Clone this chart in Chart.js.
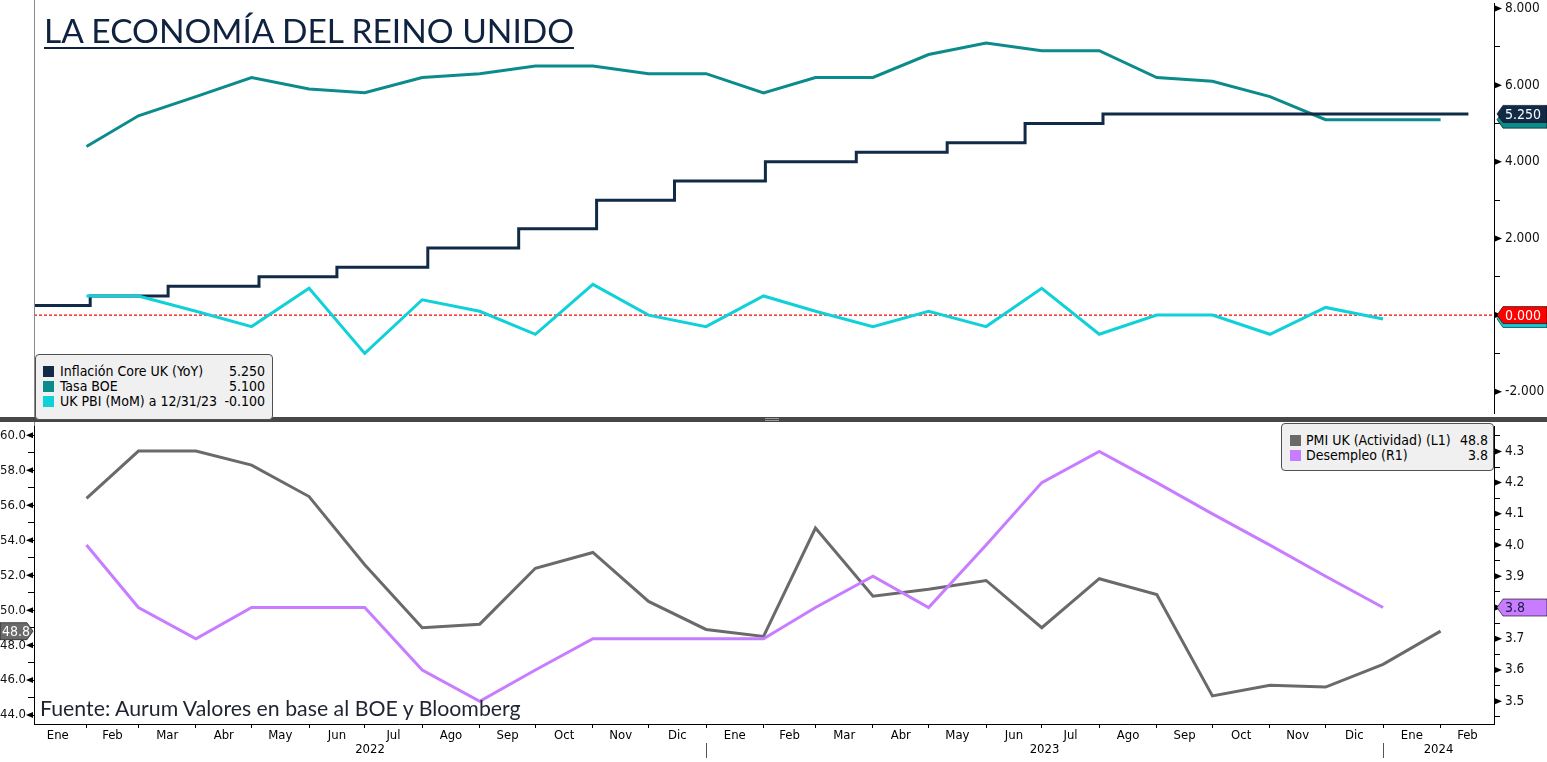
<!DOCTYPE html>
<html><head><meta charset="utf-8">
<script src="https://cdn.jsdelivr.net/npm/chart.js@4.4.0/dist/chart.umd.min.js"></script>
<style>
html,body{margin:0;padding:0;background:#fff;}
#wrap{position:relative;width:1547px;height:762px;overflow:hidden;background:#fff;}
canvas{position:absolute;left:0;}
#c1{top:-10px;}
#c2{top:413px;}
#title{position:absolute;left:44px;top:13px;font-family:Lato,'Open Sans',sans-serif;font-size:33.5px;line-height:34px;color:#0f2240;border-bottom:2px solid #0f2240;padding-bottom:0;white-space:nowrap;}
#source{position:absolute;left:40px;top:696px;font-family:Lato,'Open Sans',sans-serif;font-size:21.3px;line-height:24px;color:#1e2430;white-space:nowrap;}
.lg{position:absolute;background:#f0f0f0;border:1px solid #505050;border-radius:4px;font-family:'DejaVu Sans Condensed','Liberation Sans Narrow','DejaVu Sans',sans-serif;font-size:14px;color:#000;}
.row{position:absolute;left:0;right:0;height:15px;line-height:15px;white-space:nowrap;}
.sw{position:absolute;top:2px;width:11px;height:11px;}
.tx{position:absolute;}
.val{position:absolute;text-align:right;}
#sep{position:absolute;left:0;top:417px;width:1547px;height:5px;background:#474747;}
#handle{position:absolute;left:765px;top:418px;width:14px;height:1px;border-top:1px solid #9a9a9a;border-bottom:1px solid #9a9a9a;}
</style>
</head>
<body>
<div id="wrap">
  <canvas id="c1" width="1547" height="437"></canvas>
  <canvas id="c2" width="1547" height="349"></canvas>
  <div id="sep"></div><div id="handle"></div>
  <div id="title">LA ECONOMÍA DEL REINO UNIDO</div>
  <div id="source">Fuente: Aurum Valores en base al BOE y Bloomberg</div>
  <div class="lg" id="lg1" style="left:35px;top:354px;width:236px;height:64px;"></div>
  <div class="lg" id="lg2" style="left:1281px;top:423px;width:211px;height:46px;"></div>
</div>
<script>
// ---------------- DATA ----------------
// Monthly series (value plotted at the end of each month)
const monthsTop = ['2022-01','2022-02','2022-03','2022-04','2022-05','2022-06','2022-07','2022-08','2022-09','2022-10','2022-11','2022-12',
                   '2023-01','2023-02','2023-03','2023-04','2023-05','2023-06','2023-07','2023-08','2023-09','2023-10','2023-11','2023-12','2024-01'];
const tasaBOE = [4.4,5.2,5.7,6.2,5.9,5.8,6.2,6.3,6.5,6.5,6.3,6.3,5.8,6.2,6.2,6.8,7.1,6.9,6.9,6.2,6.1,5.7,5.1,5.1,5.1];

const monthsPBI = monthsTop.slice(0,24);
const pbiMoM = [0.5,0.5,0.1,-0.3,0.7,-1.0,0.4,0.1,-0.5,0.8,0.0,-0.3,0.5,0.1,-0.3,0.1,-0.3,0.7,-0.5,0.0,0.0,-0.5,0.2,-0.1];

// Step series: date of each change and the new level
const inflDates = ['2021-12-16','2022-02-03','2022-03-17','2022-05-05','2022-06-16','2022-08-04','2022-09-22','2022-11-03','2022-12-15',
                   '2023-02-02','2023-03-23','2023-05-11','2023-06-22','2023-08-03','2024-02-16'];
const inflCore = [0.25,0.5,0.75,1.0,1.25,1.75,2.25,3.0,3.5,4.0,4.25,4.5,5.0,5.25,5.25];

const monthsPMI = monthsTop.slice();
const pmiUK = [56.4,59.1,59.1,58.3,56.5,52.6,49.0,49.2,52.4,53.3,50.5,48.9,48.5,54.7,50.8,51.2,51.7,49.0,51.8,50.9,45.1,45.7,45.6,46.9,48.8];

const monthsDes = monthsTop.slice(0,24);
const desempleo = [4.0,3.8,3.7,3.8,3.8,3.8,3.6,3.5,3.6,3.7,3.7,3.7,3.7,3.8,3.9,3.8,4.0,4.2,4.3,4.2,4.1,4.0,3.9,3.8];

const axisMonthNames = ['Ene','Feb','Mar','Abr','May','Jun','Jul','Ago','Sep','Oct','Nov','Dic'];
const axisYears = [2022, 2023, 2024];
const topTicks = [-2,-1,0,1,2,3,4,5,6,7,8];
const leftTicks = [44,45,46,47,48,49,50,51,52,53,54,55,56,57,58,59,60];
const rightTicks = [3.45,3.5,3.55,3.6,3.65,3.7,3.75,3.8,3.85,3.9,3.95,4.0,4.05,4.1,4.15,4.2,4.25,4.3,4.35];

// ---------------- HELPERS ----------------
const DAY0 = Date.UTC(2022,0,1);
const MS = 86400000;
const dayOf = s => { const p = s.split('-').map(Number); return (Date.UTC(p[0],p[1]-1,p[2]) - DAY0)/MS; };
const monthEnd = ym => { const p = ym.split('-').map(Number); return (Date.UTC(p[0],p[1],1) - DAY0)/MS; };
const X_MIN = 2.7, X_MAX = 789.8;

const C_NAVY = '#112a46', C_TEAL = '#0b8b8b', C_CYAN = '#10d0d8', C_RED = '#ff0000', C_GRAY = '#6a6a6a', C_PURP = '#c87cff';
const FONT = "'DejaVu Sans Condensed','Liberation Sans Narrow','DejaVu Sans',sans-serif";

// x-axis month ticks
const boundaries = new Set();
const midLabels = new Map();
const xTickVals = [];
for (let i = 0; i < 26; i++) {
  const y = 2022 + Math.floor(i/12), m = i % 12;
  const s = (Date.UTC(y,m,1) - DAY0)/MS, e = (Date.UTC(y,m+1,1) - DAY0)/MS;
  const mid = (s+e)/2;
  if (s >= X_MIN && s <= X_MAX) { boundaries.add(s); xTickVals.push(s); }
  midLabels.set(mid, axisMonthNames[m]); xTickVals.push(mid);
}

function flagPath(ctx, xTip, yC, w, h, dir) {
  const a = 6;
  ctx.beginPath();
  if (dir === 'left') {
    ctx.moveTo(xTip, yC); ctx.lineTo(xTip + a, yC - h/2); ctx.lineTo(xTip + w, yC - h/2);
    ctx.lineTo(xTip + w, yC + h/2); ctx.lineTo(xTip + a, yC + h/2);
  } else {
    ctx.moveTo(xTip, yC); ctx.lineTo(xTip - a, yC - h/2); ctx.lineTo(xTip - w, yC - h/2);
    ctx.lineTo(xTip - w, yC + h/2); ctx.lineTo(xTip - a, yC + h/2);
  }
  ctx.closePath();
}

const markerPlugin = {
  id: 'markers',
  afterDraw(chart) {
    const ctx = chart.ctx;
    ctx.save();
    ctx.fillStyle = '#000';
    Object.values(chart.scales).forEach(sc => {
      if (sc.axis !== 'y') return;
      sc.ticks.forEach(t => {
        if (!t.label) return;
        const y = sc.getPixelForValue(t.value);
        ctx.beginPath();
        if (sc.position === 'right') {
          const x0 = sc.left; ctx.moveTo(x0+1, y-3); ctx.lineTo(x0+1, y+3); ctx.lineTo(x0+8, y);
        } else {
          const x0 = sc.right; ctx.moveTo(x0-1, y-3); ctx.lineTo(x0-1, y+3); ctx.lineTo(x0-8, y);
        }
        ctx.closePath(); ctx.fill();
      });
    });
    ctx.restore();
  }
};

const flagsPlugin = {
  id: 'flags',
  afterDraw(chart, args, opts) {
    const ctx = chart.ctx;
    ctx.save();
    (opts.items || []).forEach(f => {
      const sc = chart.scales[f.scale];
      const y = sc.getPixelForValue(f.value);
      let xTip, w;
      if (f.side === 'right') { xTip = sc.left + 3; w = chart.width - xTip; }
      else { xTip = sc.right - 1; w = xTip; }
      flagPath(ctx, xTip, y, w, 17, f.side === 'right' ? 'left' : 'right');
      ctx.fillStyle = f.color; ctx.fill();
      ctx.strokeStyle = f.stroke || 'rgba(0,0,0,0.6)'; ctx.lineWidth = 1; ctx.stroke();
      if (f.text) {
        ctx.fillStyle = f.textColor; ctx.font = '14px ' + FONT; ctx.textBaseline = 'middle';
        ctx.textAlign = 'left';
        if (f.side === 'right') ctx.fillText(f.text, xTip + 8, y + 1);
        else ctx.fillText(f.text, 2, y + 1);
      }
    });
    ctx.restore();
  }
};

const leftLinePlugin = {
  id: 'leftLine',
  afterDraw(chart) {
    const a = chart.chartArea, ctx = chart.ctx;
    ctx.save(); ctx.strokeStyle = '#8a8a8a'; ctx.lineWidth = 1;
    ctx.beginPath(); ctx.moveTo(a.left + 0.5, 0); ctx.lineTo(a.left + 0.5, chart.height); ctx.stroke();
    ctx.restore();
  }
};

const yearPlugin = {
  id: 'years',
  afterDraw(chart) {
    const sx = chart.scales.x, ctx = chart.ctx, a = chart.chartArea;
    ctx.save();
    ctx.font = '13px ' + FONT; ctx.fillStyle = '#000'; ctx.textAlign = 'center'; ctx.textBaseline = 'middle';
    const yText = a.bottom + 26;
    axisYears.forEach(yr => {
      const s = Math.max(sx.getPixelForValue((Date.UTC(yr,0,1)-DAY0)/MS), a.left);
      const e = Math.min(sx.getPixelForValue((Date.UTC(yr+1,0,1)-DAY0)/MS), a.right);
      ctx.fillText(String(yr), (s+e)/2, yText);
      if (yr > axisYears[0]) {
        const xs = Math.round(sx.getPixelForValue((Date.UTC(yr,0,1)-DAY0)/MS)) + 0.5;
        ctx.strokeStyle = '#555'; ctx.lineWidth = 1;
        ctx.beginPath(); ctx.moveTo(xs, a.bottom + 19); ctx.lineTo(xs, a.bottom + 34); ctx.stroke();
      }
    });
    ctx.restore();
  }
};

const yTickFont = { family: FONT, size: 13.5 };

// ---------------- TOP CHART ----------------
new Chart(document.getElementById('c1'), {
  type: 'line',
  data: {
    datasets: [
      { label: 'UK PBI (MoM) a 12/31/23', data: monthsPBI.map((m,i)=>({x:monthEnd(m), y:pbiMoM[i]})),
        borderColor: C_CYAN, borderWidth: 3, pointRadius: 0, order: 0 },
      { label: 'Inflación Core UK (YoY)', data: inflDates.map((d,i)=>({x:dayOf(d), y:inflCore[i]})),
        borderColor: C_NAVY, borderWidth: 3, pointRadius: 0, stepped: 'before', order: 1 },
      { label: 'Tasa BOE', data: monthsTop.map((m,i)=>({x:monthEnd(m), y:tasaBOE[i]})),
        borderColor: C_TEAL, borderWidth: 3, pointRadius: 0, order: 2 },
      { label: 'cero', data: [{x:X_MIN,y:0},{x:X_MAX,y:0}],
        borderColor: C_RED, borderWidth: 1.3, borderDash: [3,2], pointRadius: 0, order: 3 }
    ]
  },
  options: {
    responsive: false, animation: false, events: [],
    layout: { padding: { top: 10, bottom: 10, left: 34, right: 0 } },
    plugins: {
      legend: { display: false }, tooltip: { enabled: false },
      flags: { items: [
        { scale:'y', side:'right', value: tasaBOE[tasaBOE.length-1], color: C_TEAL },
        { scale:'y', side:'right', value: inflCore[inflCore.length-1], color: C_NAVY, text: inflCore[inflCore.length-1].toFixed(3), textColor:'#fff' },
        { scale:'y', side:'right', value: pbiMoM[pbiMoM.length-1], color: C_CYAN },
        { scale:'y', side:'right', value: 0, color: C_RED, text: (0).toFixed(3), textColor:'#fff' }
      ] }
    },
    scales: {
      x: { type: 'linear', display: false, min: X_MIN, max: X_MAX },
      y: { type: 'linear', position: 'right', min: -2.578, max: 8.141,
           afterBuildTicks: sc => { sc.ticks = topTicks.map(v => ({ value: v })); },
           afterFit: sc => { sc.width = 53; },
           ticks: { autoSkip: false, font: yTickFont, color: '#111', padding: 5,
                    callback: v => (Math.round(v) % 2 === 0 ? v.toFixed(3) : '') },
           grid: { drawOnChartArea: false, tickLength: 6, tickColor: '#000' },
           border: { display: true, color: '#000', width: 1 } }
    }
  },
  plugins: [leftLinePlugin, markerPlugin, flagsPlugin]
});

// ---------------- BOTTOM CHART ----------------
new Chart(document.getElementById('c2'), {
  type: 'line',
  data: {
    datasets: [
      { label: 'Desempleo (R1)', yAxisID: 'yR', data: monthsDes.map((m,i)=>({x:monthEnd(m), y:desempleo[i]})),
        borderColor: C_PURP, borderWidth: 3, pointRadius: 0, order: 0 },
      { label: 'PMI UK (Actividad) (L1)', yAxisID: 'yL', data: monthsPMI.map((m,i)=>({x:monthEnd(m), y:pmiUK[i]})),
        borderColor: C_GRAY, borderWidth: 3, pointRadius: 0, order: 1 }
    ]
  },
  options: {
    responsive: false, animation: false, events: [],
    layout: { padding: { top: 10, bottom: 0, left: 0, right: 0 } },
    plugins: {
      legend: { display: false }, tooltip: { enabled: false },
      flags: { items: [
        { scale:'yR', side:'right', value: desempleo[desempleo.length-1], color: C_PURP, text: desempleo[desempleo.length-1].toFixed(1), textColor:'#1a1a40' },
        { scale:'yL', side:'left', value: pmiUK[pmiUK.length-1], color: C_GRAY, text: pmiUK[pmiUK.length-1].toFixed(1), textColor:'#fff' }
      ] }
    },
    scales: {
      x: { type: 'linear', position: 'bottom', min: X_MIN, max: X_MAX,
           afterBuildTicks: sc => { sc.ticks = xTickVals.filter(v => v >= X_MIN && v <= X_MAX).map(v => ({ value: v })); },
           afterFit: sc => { sc.height = 38; },
           ticks: { autoSkip: false, maxRotation: 0, minRotation: 0, padding: 0, font: { family: FONT, size: 13 }, color: '#000',
                    callback: v => midLabels.has(v) ? midLabels.get(v) : '' },
           grid: { drawOnChartArea: false, tickLength: 4,
                   tickColor: c => (c.tick && boundaries.has(c.tick.value)) ? '#000' : 'rgba(0,0,0,0)' },
           border: { display: true, color: '#000', width: 1 } },
      yL: { type: 'linear', position: 'left', min: 43.49, max: 60.53,
            afterBuildTicks: sc => { sc.ticks = leftTicks.map(v => ({ value: v })); },
            afterFit: sc => { sc.width = 34; },
            ticks: { autoSkip: false, font: { family: FONT, size: 13 }, color: '#111', padding: 2,
                     callback: v => (Math.round(v) % 2 === 0 ? v.toFixed(1) : '') },
            grid: { drawOnChartArea: false, tickLength: 6, tickColor: '#000' },
            border: { display: true, color: '#000', width: 1 } },
      yR: { type: 'linear', position: 'right', min: 3.427, max: 4.381,
            afterBuildTicks: sc => { sc.ticks = rightTicks.map(v => ({ value: v })); },
            afterFit: sc => { sc.width = 53; },
            ticks: { autoSkip: false, font: yTickFont, color: '#111', padding: 5,
                     callback: v => (Math.round(v*20) % 2 === 0 ? v.toFixed(1) : '') },
            grid: { drawOnChartArea: false, tickLength: 6, tickColor: '#000' },
            border: { display: true, color: '#000', width: 1 } }
    }
  },
  plugins: [markerPlugin, flagsPlugin, yearPlugin]
});

// ---------------- LEGENDS ----------------
function buildLegend(id, items, cfg) {
  const el = document.getElementById(id);
  items.forEach((it, i) => {
    const r = document.createElement('div'); r.className = 'row'; r.style.top = (cfg.top + i*cfg.step) + 'px';
    r.innerHTML = '<div class="sw" style="left:'+cfg.sw+'px;background:'+it.color+'"></div>' +
      '<div class="tx" style="left:'+cfg.tx+'px">'+it.label+'</div>' +
      '<div class="val" style="right:'+cfg.vr+'px">'+it.value+'</div>';
    el.appendChild(r);
  });
}
buildLegend('lg1', [
  { label: 'Inflación Core UK (YoY)', color: C_NAVY, value: inflCore[inflCore.length-1].toFixed(3) },
  { label: 'Tasa BOE', color: C_TEAL, value: tasaBOE[tasaBOE.length-1].toFixed(3) },
  { label: 'UK PBI (MoM) a 12/31/23', color: C_CYAN, value: pbiMoM[pbiMoM.length-1].toFixed(3) }
], { top: 9, step: 15, sw: 7, tx: 24, vr: 7 });
buildLegend('lg2', [
  { label: 'PMI UK (Actividad) (L1)', color: C_GRAY, value: pmiUK[pmiUK.length-1].toFixed(1) },
  { label: 'Desempleo (R1)', color: C_PURP, value: desempleo[desempleo.length-1].toFixed(1) }
], { top: 9, step: 15, sw: 8, tx: 24, vr: 5 });
</script>
</body></html>
